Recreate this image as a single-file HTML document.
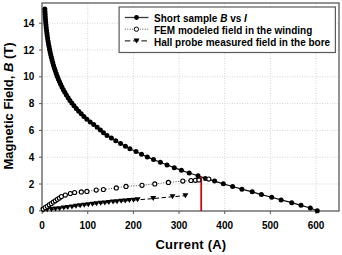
<!DOCTYPE html>
<html><head><meta charset="utf-8"><style>
html,body{margin:0;padding:0;background:#fff;}
svg{display:block;}
text{font-family:"Liberation Sans",sans-serif;font-weight:bold;fill:#000;}
.tl{font-size:10px;}
.lg{font-size:10px;}
.at{font-size:13px;}
</style></head><body>
<svg width="342" height="255" viewBox="0 0 342 255">
<line x1="87.75" y1="3.0" x2="87.75" y2="211.0" stroke="#d4d4d4" stroke-width="1" stroke-dasharray="1,1.5"/>
<line x1="133.40" y1="3.0" x2="133.40" y2="211.0" stroke="#d4d4d4" stroke-width="1" stroke-dasharray="1,1.5"/>
<line x1="179.05" y1="3.0" x2="179.05" y2="211.0" stroke="#d4d4d4" stroke-width="1" stroke-dasharray="1,1.5"/>
<line x1="224.70" y1="3.0" x2="224.70" y2="211.0" stroke="#d4d4d4" stroke-width="1" stroke-dasharray="1,1.5"/>
<line x1="270.35" y1="3.0" x2="270.35" y2="211.0" stroke="#d4d4d4" stroke-width="1" stroke-dasharray="1,1.5"/>
<line x1="316.00" y1="3.0" x2="316.00" y2="211.0" stroke="#d4d4d4" stroke-width="1" stroke-dasharray="1,1.5"/>
<line x1="42.0" y1="184.00" x2="339.0" y2="184.00" stroke="#d4d4d4" stroke-width="1" stroke-dasharray="1,1.5"/>
<line x1="42.0" y1="157.20" x2="339.0" y2="157.20" stroke="#d4d4d4" stroke-width="1" stroke-dasharray="1,1.5"/>
<line x1="42.0" y1="130.40" x2="339.0" y2="130.40" stroke="#d4d4d4" stroke-width="1" stroke-dasharray="1,1.5"/>
<line x1="42.0" y1="103.60" x2="339.0" y2="103.60" stroke="#d4d4d4" stroke-width="1" stroke-dasharray="1,1.5"/>
<line x1="42.0" y1="76.80" x2="339.0" y2="76.80" stroke="#d4d4d4" stroke-width="1" stroke-dasharray="1,1.5"/>
<line x1="42.0" y1="50.00" x2="339.0" y2="50.00" stroke="#d4d4d4" stroke-width="1" stroke-dasharray="1,1.5"/>
<line x1="42.0" y1="23.20" x2="339.0" y2="23.20" stroke="#d4d4d4" stroke-width="1" stroke-dasharray="1,1.5"/>
<rect x="42.0" y="3.0" width="297.0" height="208.0" fill="none" stroke="#5a5a5a" stroke-width="1.3"/>
<line x1="42.10" y1="211.0" x2="42.10" y2="214.0" stroke="#5a5a5a" stroke-width="1"/>
<line x1="87.75" y1="211.0" x2="87.75" y2="214.0" stroke="#5a5a5a" stroke-width="1"/>
<line x1="133.40" y1="211.0" x2="133.40" y2="214.0" stroke="#5a5a5a" stroke-width="1"/>
<line x1="179.05" y1="211.0" x2="179.05" y2="214.0" stroke="#5a5a5a" stroke-width="1"/>
<line x1="224.70" y1="211.0" x2="224.70" y2="214.0" stroke="#5a5a5a" stroke-width="1"/>
<line x1="270.35" y1="211.0" x2="270.35" y2="214.0" stroke="#5a5a5a" stroke-width="1"/>
<line x1="316.00" y1="211.0" x2="316.00" y2="214.0" stroke="#5a5a5a" stroke-width="1"/>
<line x1="39.0" y1="210.80" x2="42.0" y2="210.80" stroke="#5a5a5a" stroke-width="1"/>
<line x1="39.0" y1="184.00" x2="42.0" y2="184.00" stroke="#5a5a5a" stroke-width="1"/>
<line x1="39.0" y1="157.20" x2="42.0" y2="157.20" stroke="#5a5a5a" stroke-width="1"/>
<line x1="39.0" y1="130.40" x2="42.0" y2="130.40" stroke="#5a5a5a" stroke-width="1"/>
<line x1="39.0" y1="103.60" x2="42.0" y2="103.60" stroke="#5a5a5a" stroke-width="1"/>
<line x1="39.0" y1="76.80" x2="42.0" y2="76.80" stroke="#5a5a5a" stroke-width="1"/>
<line x1="39.0" y1="50.00" x2="42.0" y2="50.00" stroke="#5a5a5a" stroke-width="1"/>
<line x1="39.0" y1="23.20" x2="42.0" y2="23.20" stroke="#5a5a5a" stroke-width="1"/>
<text x="42.10" y="228.6" text-anchor="middle" class="tl">0</text>
<text x="87.75" y="228.6" text-anchor="middle" class="tl">100</text>
<text x="133.40" y="228.6" text-anchor="middle" class="tl">200</text>
<text x="179.05" y="228.6" text-anchor="middle" class="tl">300</text>
<text x="224.70" y="228.6" text-anchor="middle" class="tl">400</text>
<text x="270.35" y="228.6" text-anchor="middle" class="tl">500</text>
<text x="316.00" y="228.6" text-anchor="middle" class="tl">600</text>
<text x="34.3" y="214.40" text-anchor="end" class="tl">0</text>
<text x="34.3" y="187.60" text-anchor="end" class="tl">2</text>
<text x="34.3" y="160.80" text-anchor="end" class="tl">4</text>
<text x="34.3" y="134.00" text-anchor="end" class="tl">6</text>
<text x="34.3" y="107.20" text-anchor="end" class="tl">8</text>
<text x="34.3" y="80.40" text-anchor="end" class="tl">10</text>
<text x="34.3" y="53.60" text-anchor="end" class="tl">12</text>
<text x="34.3" y="26.80" text-anchor="end" class="tl">14</text>
<polyline points="317.30,210.70 310.30,208.01 301.00,205.32 291.70,202.63 281.10,199.94 271.70,197.25 261.40,194.56 252.20,191.87 241.90,189.18 232.60,186.49 223.30,183.80 214.60,181.11 205.30,178.42 198.00,175.73 189.20,173.04 181.40,170.35 174.30,167.66 167.00,164.97 160.40,162.28 153.50,159.59 147.30,156.90 141.50,154.21 136.00,151.52 129.90,148.83 125.40,146.14 120.60,143.45 115.80,140.76 111.40,138.07 107.00,135.38 103.50,132.69 100.40,130.00 97.16,127.31 93.69,124.62 90.19,121.93 86.87,119.24 83.90,116.55 81.22,113.86 78.70,111.17 76.28,108.48 73.99,105.79 71.85,103.10 69.89,100.41 68.08,97.72 66.39,95.03 64.80,92.34 63.32,89.65 61.94,86.96 60.64,84.27 59.42,81.58 58.28,78.89 57.21,76.20 56.21,73.51 55.27,70.82 54.39,68.13 53.56,65.44 52.79,62.75 52.06,60.06 51.37,57.37 50.72,54.68 50.12,51.99 49.55,49.30 49.02,46.61 48.52,43.92 48.06,41.23 47.64,38.54 47.24,35.85 46.88,33.16 46.55,30.47 46.24,27.78 45.97,25.09 45.72,22.40 45.50,19.71 45.30,17.02 45.13,14.33 44.97,11.64 44.84,8.95" fill="none" stroke="#111" stroke-width="1.2"/>
<polyline points="43.20,210.28 47.30,209.87 51.41,209.47 55.51,209.09 59.62,208.63 63.72,208.09 67.83,207.54 71.93,206.95 76.03,206.37 80.14,205.78 84.24,205.25 88.35,204.71 92.45,204.23 96.56,203.78 100.66,203.33 104.77,202.92 108.87,202.51 112.97,202.10 117.08,201.69 121.18,201.29 125.29,200.92 129.39,200.55 133.50,200.17 137.60,199.80 153.20,198.60 172.50,196.70 185.40,195.70" fill="none" stroke="#000" stroke-width="1" stroke-dasharray="4.5,2.5"/>
<path d="M40.20,207.78h6.0l-3.0,5.0z" fill="#000"/>
<path d="M44.30,207.37h6.0l-3.0,5.0z" fill="#000"/>
<path d="M48.41,206.97h6.0l-3.0,5.0z" fill="#000"/>
<path d="M52.51,206.59h6.0l-3.0,5.0z" fill="#000"/>
<path d="M56.62,206.13h6.0l-3.0,5.0z" fill="#000"/>
<path d="M60.72,205.59h6.0l-3.0,5.0z" fill="#000"/>
<path d="M64.83,205.04h6.0l-3.0,5.0z" fill="#000"/>
<path d="M68.93,204.45h6.0l-3.0,5.0z" fill="#000"/>
<path d="M73.03,203.87h6.0l-3.0,5.0z" fill="#000"/>
<path d="M77.14,203.28h6.0l-3.0,5.0z" fill="#000"/>
<path d="M81.24,202.75h6.0l-3.0,5.0z" fill="#000"/>
<path d="M85.35,202.21h6.0l-3.0,5.0z" fill="#000"/>
<path d="M89.45,201.73h6.0l-3.0,5.0z" fill="#000"/>
<path d="M93.56,201.28h6.0l-3.0,5.0z" fill="#000"/>
<path d="M97.66,200.83h6.0l-3.0,5.0z" fill="#000"/>
<path d="M101.77,200.42h6.0l-3.0,5.0z" fill="#000"/>
<path d="M105.87,200.01h6.0l-3.0,5.0z" fill="#000"/>
<path d="M109.97,199.60h6.0l-3.0,5.0z" fill="#000"/>
<path d="M114.08,199.19h6.0l-3.0,5.0z" fill="#000"/>
<path d="M118.18,198.79h6.0l-3.0,5.0z" fill="#000"/>
<path d="M122.29,198.42h6.0l-3.0,5.0z" fill="#000"/>
<path d="M126.39,198.05h6.0l-3.0,5.0z" fill="#000"/>
<path d="M130.50,197.67h6.0l-3.0,5.0z" fill="#000"/>
<path d="M134.60,197.30h6.0l-3.0,5.0z" fill="#000"/>
<path d="M150.20,196.10h6.0l-3.0,5.0z" fill="#000"/>
<path d="M169.50,194.20h6.0l-3.0,5.0z" fill="#000"/>
<path d="M182.40,193.20h6.0l-3.0,5.0z" fill="#000"/>
<line x1="201.2" y1="176.5" x2="201.2" y2="211.0" stroke="#c80c14" stroke-width="1.8"/>
<circle cx="317.30" cy="210.70" r="2.5" fill="#000"/>
<circle cx="310.30" cy="208.01" r="2.5" fill="#000"/>
<circle cx="301.00" cy="205.32" r="2.5" fill="#000"/>
<circle cx="291.70" cy="202.63" r="2.5" fill="#000"/>
<circle cx="281.10" cy="199.94" r="2.5" fill="#000"/>
<circle cx="271.70" cy="197.25" r="2.5" fill="#000"/>
<circle cx="261.40" cy="194.56" r="2.5" fill="#000"/>
<circle cx="252.20" cy="191.87" r="2.5" fill="#000"/>
<circle cx="241.90" cy="189.18" r="2.5" fill="#000"/>
<circle cx="232.60" cy="186.49" r="2.5" fill="#000"/>
<circle cx="223.30" cy="183.80" r="2.5" fill="#000"/>
<circle cx="214.60" cy="181.11" r="2.5" fill="#000"/>
<circle cx="205.30" cy="178.42" r="2.5" fill="#000"/>
<circle cx="198.00" cy="175.73" r="2.5" fill="#000"/>
<circle cx="189.20" cy="173.04" r="2.5" fill="#000"/>
<circle cx="181.40" cy="170.35" r="2.5" fill="#000"/>
<circle cx="174.30" cy="167.66" r="2.5" fill="#000"/>
<circle cx="167.00" cy="164.97" r="2.5" fill="#000"/>
<circle cx="160.40" cy="162.28" r="2.5" fill="#000"/>
<circle cx="153.50" cy="159.59" r="2.5" fill="#000"/>
<circle cx="147.30" cy="156.90" r="2.5" fill="#000"/>
<circle cx="141.50" cy="154.21" r="2.5" fill="#000"/>
<circle cx="136.00" cy="151.52" r="2.5" fill="#000"/>
<circle cx="129.90" cy="148.83" r="2.5" fill="#000"/>
<circle cx="125.40" cy="146.14" r="2.5" fill="#000"/>
<circle cx="120.60" cy="143.45" r="2.5" fill="#000"/>
<circle cx="115.80" cy="140.76" r="2.5" fill="#000"/>
<circle cx="111.40" cy="138.07" r="2.5" fill="#000"/>
<circle cx="107.00" cy="135.38" r="2.5" fill="#000"/>
<circle cx="103.50" cy="132.69" r="2.5" fill="#000"/>
<circle cx="100.40" cy="130.00" r="2.5" fill="#000"/>
<circle cx="97.16" cy="127.31" r="2.5" fill="#000"/>
<circle cx="93.69" cy="124.62" r="2.5" fill="#000"/>
<circle cx="90.19" cy="121.93" r="2.5" fill="#000"/>
<circle cx="86.87" cy="119.24" r="2.5" fill="#000"/>
<circle cx="83.90" cy="116.55" r="2.5" fill="#000"/>
<circle cx="81.22" cy="113.86" r="2.5" fill="#000"/>
<circle cx="78.70" cy="111.17" r="2.5" fill="#000"/>
<circle cx="76.28" cy="108.48" r="2.5" fill="#000"/>
<circle cx="73.99" cy="105.79" r="2.5" fill="#000"/>
<circle cx="71.85" cy="103.10" r="2.5" fill="#000"/>
<circle cx="69.89" cy="100.41" r="2.5" fill="#000"/>
<circle cx="68.08" cy="97.72" r="2.5" fill="#000"/>
<circle cx="66.39" cy="95.03" r="2.5" fill="#000"/>
<circle cx="64.80" cy="92.34" r="2.5" fill="#000"/>
<circle cx="63.32" cy="89.65" r="2.5" fill="#000"/>
<circle cx="61.94" cy="86.96" r="2.5" fill="#000"/>
<circle cx="60.64" cy="84.27" r="2.5" fill="#000"/>
<circle cx="59.42" cy="81.58" r="2.5" fill="#000"/>
<circle cx="58.28" cy="78.89" r="2.5" fill="#000"/>
<circle cx="57.21" cy="76.20" r="2.5" fill="#000"/>
<circle cx="56.21" cy="73.51" r="2.5" fill="#000"/>
<circle cx="55.27" cy="70.82" r="2.5" fill="#000"/>
<circle cx="54.39" cy="68.13" r="2.5" fill="#000"/>
<circle cx="53.56" cy="65.44" r="2.5" fill="#000"/>
<circle cx="52.79" cy="62.75" r="2.5" fill="#000"/>
<circle cx="52.06" cy="60.06" r="2.5" fill="#000"/>
<circle cx="51.37" cy="57.37" r="2.5" fill="#000"/>
<circle cx="50.72" cy="54.68" r="2.5" fill="#000"/>
<circle cx="50.12" cy="51.99" r="2.5" fill="#000"/>
<circle cx="49.55" cy="49.30" r="2.5" fill="#000"/>
<circle cx="49.02" cy="46.61" r="2.5" fill="#000"/>
<circle cx="48.52" cy="43.92" r="2.5" fill="#000"/>
<circle cx="48.06" cy="41.23" r="2.5" fill="#000"/>
<circle cx="47.64" cy="38.54" r="2.5" fill="#000"/>
<circle cx="47.24" cy="35.85" r="2.5" fill="#000"/>
<circle cx="46.88" cy="33.16" r="2.5" fill="#000"/>
<circle cx="46.55" cy="30.47" r="2.5" fill="#000"/>
<circle cx="46.24" cy="27.78" r="2.5" fill="#000"/>
<circle cx="45.97" cy="25.09" r="2.5" fill="#000"/>
<circle cx="45.72" cy="22.40" r="2.5" fill="#000"/>
<circle cx="45.50" cy="19.71" r="2.5" fill="#000"/>
<circle cx="45.30" cy="17.02" r="2.5" fill="#000"/>
<circle cx="45.13" cy="14.33" r="2.5" fill="#000"/>
<circle cx="44.97" cy="11.64" r="2.5" fill="#000"/>
<circle cx="44.84" cy="8.95" r="2.5" fill="#000"/>
<polyline points="43.20,209.00 45.22,207.62 47.24,206.24 49.27,204.87 51.29,203.49 53.31,202.11 55.33,200.73 57.36,199.36 59.38,197.98 61.40,196.60 65.30,195.10 70.30,193.50 74.60,192.50 81.30,191.90 86.90,191.40 96.20,190.10 103.40,189.50 116.30,187.90 126.00,186.40 142.00,185.30 154.80,183.90 168.40,182.40 182.80,181.10 191.00,180.50 195.40,180.30 198.90,179.90 208.80,179.10" fill="none" stroke="#555" stroke-width="1" stroke-dasharray="1,1.5"/>
<circle cx="43.20" cy="209.00" r="2.05" fill="#fff" stroke="#000" stroke-width="1.1"/>
<circle cx="45.22" cy="207.62" r="2.05" fill="#fff" stroke="#000" stroke-width="1.1"/>
<circle cx="47.24" cy="206.24" r="2.05" fill="#fff" stroke="#000" stroke-width="1.1"/>
<circle cx="49.27" cy="204.87" r="2.05" fill="#fff" stroke="#000" stroke-width="1.1"/>
<circle cx="51.29" cy="203.49" r="2.05" fill="#fff" stroke="#000" stroke-width="1.1"/>
<circle cx="53.31" cy="202.11" r="2.05" fill="#fff" stroke="#000" stroke-width="1.1"/>
<circle cx="55.33" cy="200.73" r="2.05" fill="#fff" stroke="#000" stroke-width="1.1"/>
<circle cx="57.36" cy="199.36" r="2.05" fill="#fff" stroke="#000" stroke-width="1.1"/>
<circle cx="59.38" cy="197.98" r="2.05" fill="#fff" stroke="#000" stroke-width="1.1"/>
<circle cx="61.40" cy="196.60" r="2.05" fill="#fff" stroke="#000" stroke-width="1.1"/>
<circle cx="65.30" cy="195.10" r="2.05" fill="#fff" stroke="#000" stroke-width="1.1"/>
<circle cx="70.30" cy="193.50" r="2.05" fill="#fff" stroke="#000" stroke-width="1.1"/>
<circle cx="74.60" cy="192.50" r="2.05" fill="#fff" stroke="#000" stroke-width="1.1"/>
<circle cx="81.30" cy="191.90" r="2.05" fill="#fff" stroke="#000" stroke-width="1.1"/>
<circle cx="86.90" cy="191.40" r="2.05" fill="#fff" stroke="#000" stroke-width="1.1"/>
<circle cx="96.20" cy="190.10" r="2.05" fill="#fff" stroke="#000" stroke-width="1.1"/>
<circle cx="103.40" cy="189.50" r="2.05" fill="#fff" stroke="#000" stroke-width="1.1"/>
<circle cx="116.30" cy="187.90" r="2.05" fill="#fff" stroke="#000" stroke-width="1.1"/>
<circle cx="126.00" cy="186.40" r="2.05" fill="#fff" stroke="#000" stroke-width="1.1"/>
<circle cx="142.00" cy="185.30" r="2.05" fill="#fff" stroke="#000" stroke-width="1.1"/>
<circle cx="154.80" cy="183.90" r="2.05" fill="#fff" stroke="#000" stroke-width="1.1"/>
<circle cx="168.40" cy="182.40" r="2.05" fill="#fff" stroke="#000" stroke-width="1.1"/>
<circle cx="182.80" cy="181.10" r="2.05" fill="#fff" stroke="#000" stroke-width="1.1"/>
<circle cx="191.00" cy="180.50" r="2.05" fill="#fff" stroke="#000" stroke-width="1.1"/>
<circle cx="195.40" cy="180.30" r="2.05" fill="#fff" stroke="#000" stroke-width="1.1"/>
<circle cx="198.90" cy="179.90" r="2.05" fill="#fff" stroke="#000" stroke-width="1.1"/>
<circle cx="208.80" cy="179.10" r="2.05" fill="#fff" stroke="#000" stroke-width="1.1"/>
<rect x="119.1" y="7" width="216.3" height="45.5" fill="#fff" stroke="#5a5a5a" stroke-width="1.2"/>
<line x1="124.8" y1="17.5" x2="148.5" y2="17.5" stroke="#3a3a3a" stroke-width="1.3"/>
<circle cx="136.5" cy="17.5" r="2.4" fill="#000"/>
<line x1="124.8" y1="29.2" x2="148.5" y2="29.2" stroke="#555" stroke-width="1" stroke-dasharray="1,1.5"/>
<circle cx="136.4" cy="29.2" r="2.15" fill="#fff" stroke="#000" stroke-width="1.0"/>
<line x1="124.8" y1="40.9" x2="148.5" y2="40.9" stroke="#000" stroke-width="1" stroke-dasharray="5.5,2.8"/>
<path d="M133.50,38.40h6.0l-3.0,5.0z" fill="#000"/>
<text x="154" y="22.3" class="lg">Short sample <tspan font-style="italic">B</tspan> vs <tspan font-style="italic">I</tspan></text>
<text x="154" y="34.0" class="lg">FEM modeled field in the winding</text>
<text x="154" y="45.699999999999996" class="lg">Hall probe measured field in the bore</text>
<text x="190.9" y="249.2" text-anchor="middle" class="at" letter-spacing="0.2">Current (A)</text>
<text transform="translate(13.2,106) rotate(-90)" text-anchor="middle" class="at">Magnetic Field, <tspan font-style="italic">B</tspan> (T)</text>
</svg>
</body></html>
